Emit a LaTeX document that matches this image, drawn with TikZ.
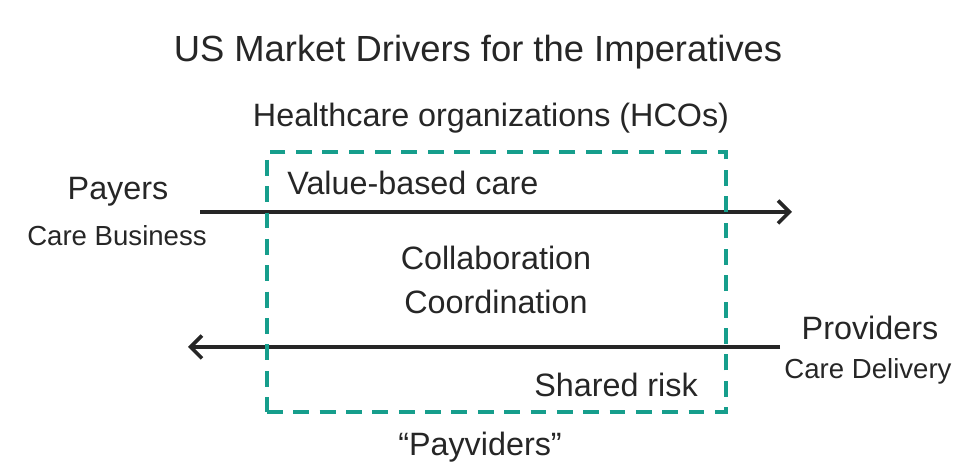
\documentclass[tikz,border=0pt]{standalone}
\usepackage{fontspec}
\setmainfont{Liberation Sans}
\usetikzlibrary{arrows.meta}
\definecolor{hcoteal}{RGB}{22,158,140}
\definecolor{inkgray}{RGB}{38,38,38}

\begin{document}
\begin{tikzpicture}[x=0.02cm, y=-0.02cm,
	bigtext/.style={inner sep=0pt, text=inkgray, font=\fontsize{18.4}{22}\selectfont},
	smalltext/.style={inner sep=0pt, text=inkgray, font=\fontsize{15.7}{19}\selectfont},
	flow/.style={line width=2.1pt, draw=inkgray, -{Straight Barb[length=6.5pt, width=13pt, line width=2.1pt]}}]
	
	\useasboundingbox (0, 0) rectangle (975, 475);
	
	\node[inner sep=0pt, text=inkgray, font=\fontsize{20.7}{25}\selectfont] (title) at (478, 52) {US Market Drivers for the Imperatives};
	\node[bigtext] (hco) at (491, 118) {Healthcare organizations (HCOs)};
	
	\node[bigtext] (payers) at (118, 192) {Payers};
	\node[smalltext] (business) at (117, 236) {Care Business};
	\node[bigtext] (providers) at (870, 328) {Providers};
	\node[smalltext] (delivery) at (868, 371) {Care Delivery};
	
	\coordinate (payout) at (200, 212);
	\coordinate (payin) at (792, 212);
	\coordinate (provout) at (780, 347);
	\coordinate (provin) at (188, 347);
	
	\draw[flow] (payout) -- (payin);
	\draw[flow] (provout) -- (provin);
	
	\node[draw=hcoteal, line width=2.1pt, dash pattern=on 9pt off 6pt, minimum width=459*0.02cm, minimum height=260*0.02cm, inner sep=0pt] (box) at (496.5, 282) {};
	
	\node[bigtext, anchor=west] (value) at (287, 183) {Value-based care};
	\node[bigtext] (collab) at (496, 258) {Collaboration};
	\node[bigtext] (coord) at (496, 302) {Coordination};
	\node[bigtext] (risk) at (616, 385) {Shared risk};
	\node[bigtext] (payviders) at (480, 447) {“Payviders”};
	
\end{tikzpicture}
\end{document}
